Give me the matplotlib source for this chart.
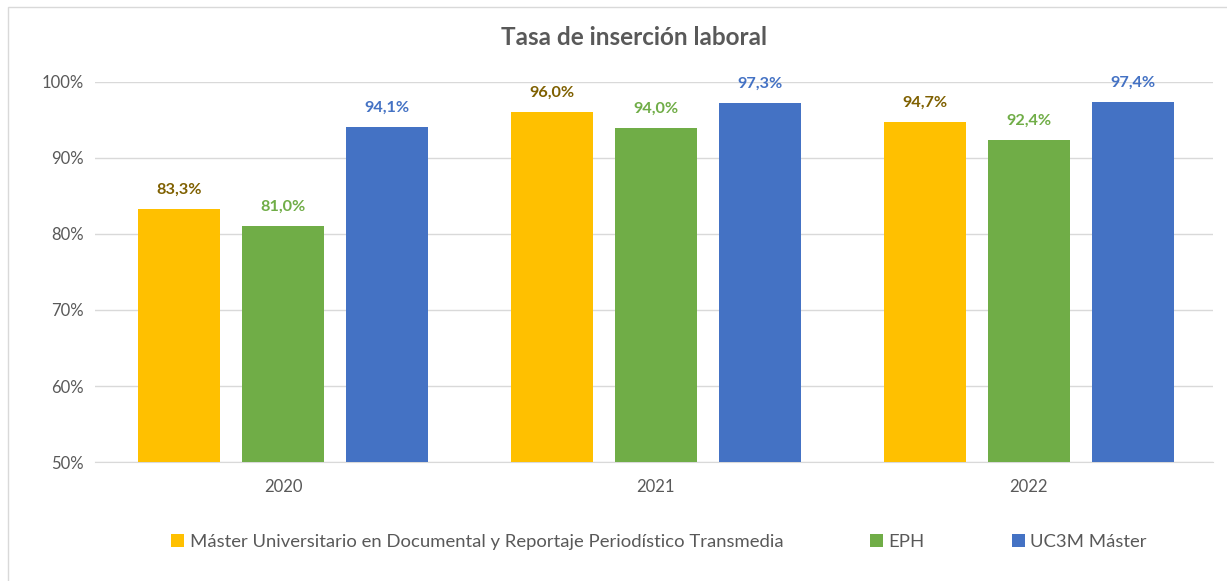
import matplotlib.pyplot as plt
import numpy as np
from matplotlib.patches import Rectangle

plt.rcParams['font.family'] = ['Lato', 'DejaVu Sans']

years = ['2020', '2021', '2022']
series = ['Máster Universitario en Documental y Reportaje Periodístico Transmedia',
          'EPH', 'UC3M Máster']
master = [83.3, 96.0, 94.7]
eph = [81.0, 94.0, 92.4]
uc3m = [94.1, 97.3, 97.4]

bar_colors = ['#FFC000', '#70AD47', '#4472C4']
label_colors = ['#7F6000', '#70AD47', '#4472C4']
grey = '#595959'

fig = plt.figure(figsize=(12.27, 5.81), dpi=100)
ax = fig.add_axes([0.0774, 0.2048, 0.9112, 0.6541])

x = np.arange(len(years))
width = 0.22
step = 0.279
for i, (vals, name) in enumerate(zip([master, eph, uc3m], series)):
    bars = ax.bar(x + (i - 1) * step, vals, width, color=bar_colors[i], label=name, zorder=3)
    for b, v in zip(bars, vals):
        ax.text(b.get_x() + b.get_width() / 2, v + 1.6, f'{v:.1f}%'.replace('.', ','),
                ha='center', va='bottom', fontsize=11.7, fontweight='bold',
                color=label_colors[i], clip_on=False)

ax.set_xlim(-0.505, 2.495)
ax.set_ylim(50, 100)
ax.set_yticks(range(50, 101, 10))
ax.set_yticklabels([f'{t}%' for t in range(50, 101, 10)])
ax.set_xticks(x)
ax.set_xticklabels(years)
ax.tick_params(length=0, labelsize=12, colors=grey)
ax.tick_params(axis='x', pad=12)
ax.tick_params(axis='y', pad=8)
ax.grid(axis='y', color='#D9D9D9', linewidth=1, zorder=0)
for s in ['top', 'right', 'left']:
    ax.spines[s].set_visible(False)
ax.spines['bottom'].set_color('#D9D9D9')

fig.text(0.517, 0.935, 'Tasa de inserción laboral', ha='center', va='center',
         fontsize=17.5, fontweight='bold', color=grey)

fig.legend(loc='center', bbox_to_anchor=(0.537, 0.067), ncol=3, frameon=False,
           fontsize=13.3, labelcolor=grey, handlelength=0.7, handleheight=0.7,
           handletextpad=0.3, columnspacing=4.7)

fig.patches.append(Rectangle((8 / 1227, -0.01), 1.0, 1 - 7 / 581 + 0.01,
                             transform=fig.transFigure, fill=False,
                             edgecolor='#D9D9D9', linewidth=1))

fig.savefig('out.png', dpi=100)
